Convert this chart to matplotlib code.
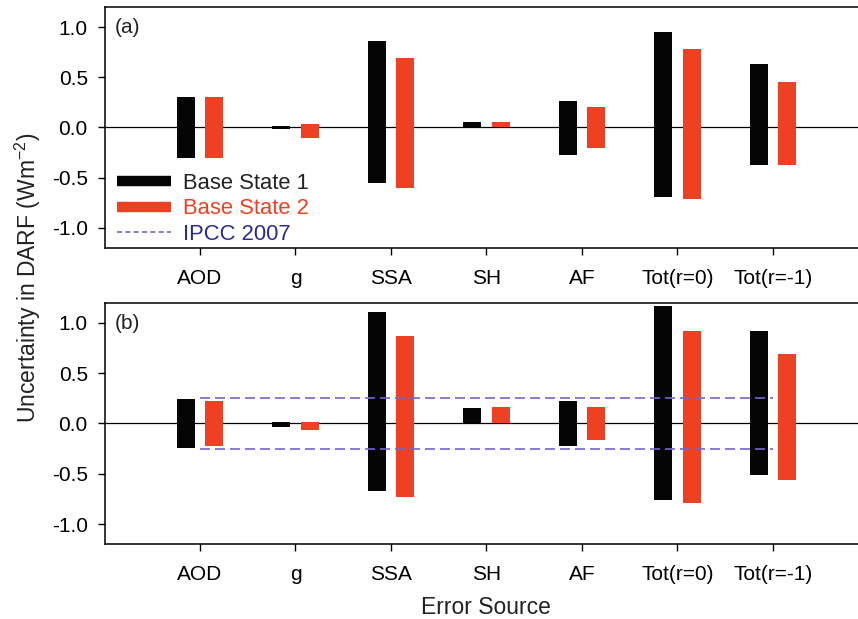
import numpy as np
import matplotlib
matplotlib.use('Agg')
import matplotlib.pyplot as plt
from matplotlib.lines import Line2D

plt.rcParams['font.family'] = ['Liberation Sans', 'DejaVu Sans']
plt.rcParams['mathtext.default'] = 'regular'

categories = ['AOD', 'g', 'SSA', 'SH', 'AF', 'Tot(r=0)', 'Tot(r=-1)']

# panel (a): upper / lower ends of uncertainty bars
a_bs1_hi = [0.30, 0.01, 0.86, 0.05, 0.26, 0.95, 0.63]
a_bs1_lo = [-0.30, -0.02, -0.55, 0.00, -0.27, -0.69, -0.37]
a_bs2_hi = [0.30, 0.03, 0.69, 0.05, 0.20, 0.78, 0.45]
a_bs2_lo = [-0.30, -0.10, -0.60, 0.00, -0.20, -0.71, -0.37]

# panel (b)
b_bs1_hi = [0.24, 0.01, 1.11, 0.155, 0.22, 1.17, 0.92]
b_bs1_lo = [-0.245, -0.03, -0.67, 0.00, -0.225, -0.76, -0.51]
b_bs2_hi = [0.22, 0.01, 0.87, 0.16, 0.16, 0.92, 0.69]
b_bs2_lo = [-0.225, -0.06, -0.73, 0.00, -0.165, -0.79, -0.565]

ipcc = 0.25

black = '#050505'
red = '#ee4023'
ipcc_line = '#7466cc'
ipcc_text = '#2c2a92'

fig = plt.figure(figsize=(8.58, 6.19), dpi=100)
ax1 = fig.add_axes([0.1218, 0.5994, 0.8904, 0.3893])
ax2 = fig.add_axes([0.1218, 0.1207, 0.8904, 0.3903])

x = np.arange(1, len(categories) + 1)
w = 0.19
off = 0.15


def draw(ax, hi1, lo1, hi2, lo2, tag):
    hi1, lo1, hi2, lo2 = map(np.array, (hi1, lo1, hi2, lo2))
    ax.axhline(0, color='black', lw=0.9, zorder=1)
    ax.bar(x - off, hi1 - lo1, bottom=lo1, width=w, color=black, zorder=2)
    ax.bar(x + off, hi2 - lo2, bottom=lo2, width=w, color=red, zorder=2)
    ax.set_xlim(0, 8)
    ax.set_ylim(-1.2, 1.2)
    ax.set_xticks(x)
    ax.set_xticklabels(categories)
    ax.set_yticks([-1.0, -0.5, 0.0, 0.5, 1.0])
    ax.set_yticklabels(['-1.0', '-0.5', '0.0', '0.5', '1.0'])
    ax.tick_params(direction='out', length=5, width=1, labelsize=15, pad=7)
    ax.tick_params(axis='x', pad=10)
    ax.spines['right'].set_visible(False)
    for s in ['left', 'bottom', 'top']:
        ax.spines[s].set_linewidth(1.1)
    ax.text(0.013, 0.915, tag, transform=ax.transAxes, fontsize=15,
            va='center', ha='left', color='#222222')


draw(ax1, a_bs1_hi, a_bs1_lo, a_bs2_hi, a_bs2_lo, '(a)')
draw(ax2, b_bs1_hi, b_bs1_lo, b_bs2_hi, b_bs2_lo, '(b)')

ax2.plot([x[0], x[-1]], [ipcc, ipcc], ls=(0, (6, 3)), color=ipcc_line, lw=1.2, zorder=3)
ax2.plot([x[0], x[-1]], [-ipcc, -ipcc], ls=(0, (6, 3)), color=ipcc_line, lw=1.2, zorder=3)

handles = [Line2D([], [], color=black, lw=7.5, solid_capstyle='butt'),
           Line2D([], [], color=red, lw=7.5, solid_capstyle='butt'),
           Line2D([], [], color=ipcc_line, lw=1.2, ls=(0, (3, 2)))]
leg = ax1.legend(handles, ['Base State 1', 'Base State 2', 'IPCC 2007'],
                 loc='lower left', bbox_to_anchor=(-0.004, -0.05), frameon=False,
                 fontsize=15.8, handlelength=2.45, handletextpad=0.55,
                 labelspacing=0.2, borderaxespad=0.3)
for t, c in zip(leg.get_texts(), ['#222222', red, ipcc_text]):
    t.set_color(c)

fig.text(0.033, 0.551, r'Uncertainty in DARF (Wm$^{-2}$)', rotation=90,
         fontsize=16.5, va='center', ha='center', color='#222222')
fig.text(0.566, 0.019, 'Error Source', fontsize=16.5, va='center', ha='center',
         color='#222222')

fig.savefig('out.png', dpi=100)
